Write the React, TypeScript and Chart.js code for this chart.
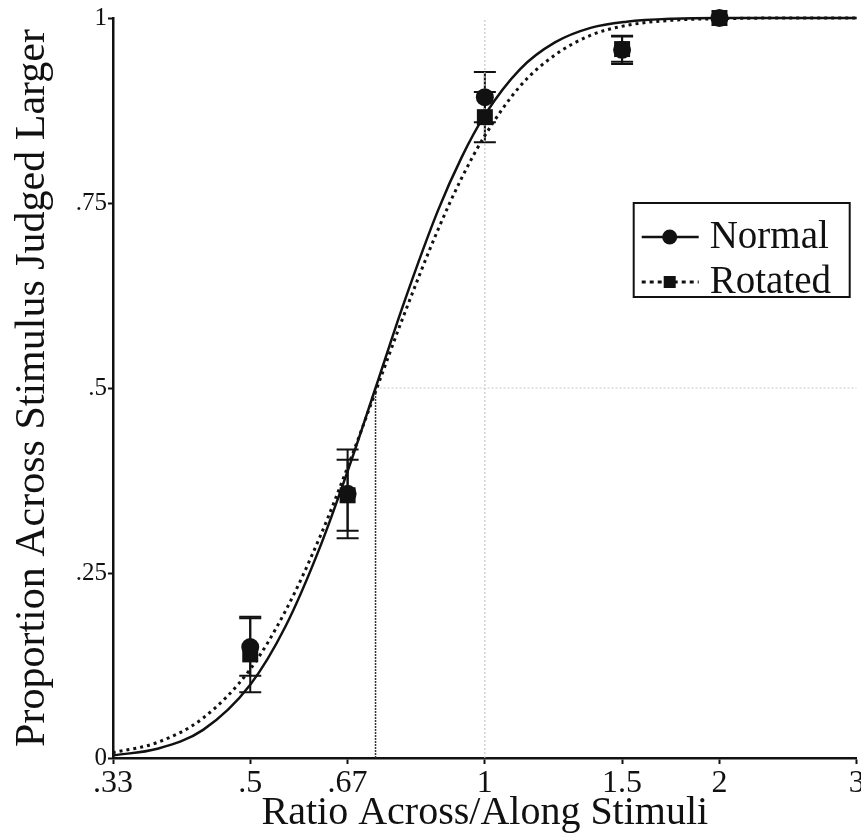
import React, { useEffect, useRef } from "react";
import { Chart, registerables } from "chart.js";

Chart.register(...registerables);

// ---- data ----
const xTickValues = [1 / 3, 0.5, 2 / 3, 1, 1.5, 2, 3];
const xTickLabels = [".33", ".5", ".67", "1", "1.5", "2", "3"];
const yTickValues = [0, 0.25, 0.5, 0.75, 1];
const yTickLabels = ["0", ".25", ".5", ".75", "1"];

const stimulusRatios = [0.5, 2 / 3, 1, 1.5, 2];
const normalMeans = [0.15, 0.357, 0.893, 0.957, 1.0];
const normalErrors = [0.039, 0.06, 0.034, 0.019, 0];
const rotatedMeans = [0.14, 0.355, 0.866, 0.958, 1.0];
const rotatedErrors = [0.051, 0.048, 0.034, 0.017, 0];

const curveRatios = [0.333, 0.38, 0.435, 0.5, 0.555, 0.615, 0.67, 0.724, 0.785, 0.87, 0.933, 1, 1.11, 1.23, 1.37, 1.52, 1.74, 2, 2.46, 3];
const normalCurve = [0.0035, 0.0125, 0.038, 0.099, 0.178, 0.286, 0.394, 0.5, 0.611, 0.739, 0.811, 0.869, 0.931, 0.967, 0.987, 0.995, 0.999, 1, 1, 1];
const rotatedCurve = [0.0072, 0.021, 0.054, 0.12, 0.199, 0.3, 0.399, 0.495, 0.595, 0.713, 0.783, 0.841, 0.908, 0.95, 0.977, 0.99, 0.997, 0.999, 1, 1];

const pseRatio = 0.724;
const pseLevel = 0.5;
const legendLabels = ["Normal", "Rotated"];
const xTitle = "Ratio Across/Along Stimuli";
const yTitle = "Proportion Across Stimulus Judged Larger";

const FONT = "'Liberation Serif', 'Times New Roman', serif";
const INK = "#111";

const errorBarPlugin = {
  id: "errorBars",
  beforeDatasetsDraw(chart: any) {
    const { ctx } = chart;
    const xs = chart.scales.x;
    const ys = chart.scales.y;
    const series = [
      { means: rotatedMeans, errs: rotatedErrors },
      { means: normalMeans, errs: normalErrors },
    ];
    ctx.save();
    ctx.strokeStyle = INK;
    ctx.lineWidth = 2;
    series.forEach((s) => {
      stimulusRatios.forEach((r, i) => {
        const e = s.errs[i];
        if (!e) return;
        const x = xs.getPixelForValue(r);
        const yT = ys.getPixelForValue(s.means[i] + e);
        const yB = ys.getPixelForValue(s.means[i] - e);
        ctx.beginPath();
        ctx.moveTo(x, yT);
        ctx.lineTo(x, yB);
        ctx.moveTo(x - 11, yT);
        ctx.lineTo(x + 11, yT);
        ctx.moveTo(x - 11, yB);
        ctx.lineTo(x + 11, yB);
        ctx.stroke();
      });
    });
    ctx.restore();
  },
};

const legendPlugin = {
  id: "boxLegend",
  afterDraw(chart: any) {
    const { ctx, chartArea } = chart;
    const w = 216;
    const h = 94;
    const x0 = chartArea.right - 7 - w;
    const y0 = chartArea.top + 185;
    ctx.save();
    ctx.fillStyle = "#fff";
    ctx.fillRect(x0, y0, w, h);
    ctx.strokeStyle = INK;
    ctx.lineWidth = 2;
    ctx.strokeRect(x0, y0, w, h);

    const rows = [y0 + 34, y0 + 79];
    ctx.lineWidth = 2.5;
    ctx.setLineDash([]);
    ctx.beginPath();
    ctx.moveTo(x0 + 8, rows[0]);
    ctx.lineTo(x0 + 65, rows[0]);
    ctx.stroke();
    ctx.fillStyle = INK;
    ctx.beginPath();
    ctx.arc(x0 + 36, rows[0], 7.5, 0, Math.PI * 2);
    ctx.fill();
    ctx.lineWidth = 3;
    ctx.setLineDash([4, 4]);
    ctx.beginPath();
    ctx.moveTo(x0 + 8, rows[1]);
    ctx.lineTo(x0 + 65, rows[1]);
    ctx.stroke();
    ctx.setLineDash([]);
    ctx.fillRect(x0 + 30, rows[1] - 6, 12, 12);

    ctx.font = `39px ${FONT}`;
    ctx.textBaseline = "middle";
    ctx.textAlign = "left";
    ctx.fillText(legendLabels[0], x0 + 76, rows[0] + 1);
    ctx.fillText(legendLabels[1], x0 + 76, rows[1] + 1);
    ctx.restore();
  },
};

const CANVAS_W = 868;
const CANVAS_H = 839;

export default function App() {
  const ref = useRef<HTMLCanvasElement | null>(null);

  useEffect(() => {
    document.body.style.margin = "0";
    const canvas = ref.current;
    if (!canvas) return;

    const toPts = (xs: number[], ys: number[]) => xs.map((x, i) => ({ x, y: ys[i] }));

    const chart = new Chart(canvas, {
      type: "line",
      data: {
        datasets: [
          {
            label: legendLabels[0] + " means",
            data: toPts(stimulusRatios, normalMeans),
            showLine: false,
            pointStyle: "circle",
            pointRadius: 9,
            pointBackgroundColor: INK,
            pointBorderColor: INK,
            pointBorderWidth: 0,
            order: 0,
            clip: false,
          } as any,
          {
            label: legendLabels[1] + " means",
            data: toPts(stimulusRatios, rotatedMeans),
            showLine: false,
            pointStyle: "rect",
            pointRadius: 11.3,
            pointBackgroundColor: INK,
            pointBorderColor: INK,
            pointBorderWidth: 0,
            order: 1,
            clip: false,
          },
          {
            label: legendLabels[0],
            data: toPts(curveRatios, normalCurve),
            borderColor: INK,
            borderWidth: 2.5,
            pointRadius: 0,
            cubicInterpolationMode: "monotone",
            order: 2,
            clip: false,
          },
          {
            label: legendLabels[1],
            data: toPts(curveRatios, rotatedCurve),
            borderColor: INK,
            borderWidth: 3,
            borderDash: [3, 4],
            pointRadius: 0,
            cubicInterpolationMode: "monotone",
            order: 3,
            clip: false,
          },
          {
            label: "pse",
            data: [
              { x: pseRatio, y: 0 },
              { x: pseRatio, y: pseLevel },
            ],
            borderColor: "#333",
            borderWidth: 1.5,
            borderDash: [2, 1],
            pointRadius: 0,
            order: 4,
          },
          {
            label: "half",
            data: [
              { x: pseRatio, y: pseLevel },
              { x: 3, y: pseLevel },
            ],
            borderColor: "#c8c8c8",
            borderWidth: 1.2,
            borderDash: [2, 2],
            pointRadius: 0,
            order: 5,
          },
          {
            label: "unity",
            data: [
              { x: 1, y: 0 },
              { x: 1, y: 1 },
            ],
            borderColor: "#c8c8c8",
            borderWidth: 1.2,
            borderDash: [2, 2],
            pointRadius: 0,
            order: 6,
          },
        ],
      },
      options: {
        animation: false,
        responsive: false,
        maintainAspectRatio: false,
        events: [],
        layout: { padding: { top: 18, right: 0, left: 0, bottom: 0 } },
        plugins: {
          legend: { display: false },
          tooltip: { enabled: false },
        },
        scales: {
          x: {
            type: "logarithmic",
            bounds: "data",
            min: 1 / 3,
            max: 3,
            afterBuildTicks: (scale: any) => {
              scale.ticks = xTickValues.map((v) => ({ value: v }));
            },
            afterFit: (scale: any) => {
              scale.height = 81;
              scale.paddingLeft = 0;
              scale.paddingRight = 0;
            },
            ticks: {
              autoSkip: false,
              maxRotation: 0,
              minRotation: 0,
              padding: 0,
              color: INK,
              font: { family: FONT, size: 32 },
              callback: (_v: any, i: number) => xTickLabels[i],
            },
            grid: {
              drawOnChartArea: false,
              drawTicks: true,
              tickLength: 6,
              tickColor: INK,
              tickWidth: 2,
            },
            border: { display: true, color: INK, width: 2.5 },
            title: {
              display: true,
              text: xTitle,
              color: INK,
              font: { family: FONT, size: 40 },
              padding: { top: 0, bottom: 2 },
            },
          },
          y: {
            type: "linear",
            min: 0,
            max: 1,
            afterBuildTicks: (scale: any) => {
              scale.ticks = yTickValues.map((v) => ({ value: v }));
            },
            afterFit: (scale: any) => {
              scale.width = 113;
              scale.paddingTop = 0;
              scale.paddingBottom = 0;
            },
            ticks: {
              autoSkip: false,
              padding: 1,
              color: INK,
              font: { family: FONT, size: 25 },
              callback: (_v: any, i: number) => yTickLabels[i],
            },
            grid: {
              drawOnChartArea: false,
              drawTicks: true,
              tickLength: 5,
              tickColor: INK,
              tickWidth: 2,
            },
            border: { display: true, color: INK, width: 2.5 },
            title: {
              display: true,
              text: yTitle,
              color: INK,
              font: { family: FONT, size: 42 },
              padding: { top: 8, bottom: 0 },
            },
          },
        },
      } as any,
      plugins: [errorBarPlugin, legendPlugin],
    });

    return () => chart.destroy();
  }, []);

  return (
    <div style={{ width: 861, height: 839, position: "relative", overflow: "hidden", background: "#fff" }}>
      <canvas
        ref={ref}
        width={CANVAS_W}
        height={CANVAS_H}
        style={{ display: "block", width: CANVAS_W, height: CANVAS_H }}
      />
    </div>
  );
}
